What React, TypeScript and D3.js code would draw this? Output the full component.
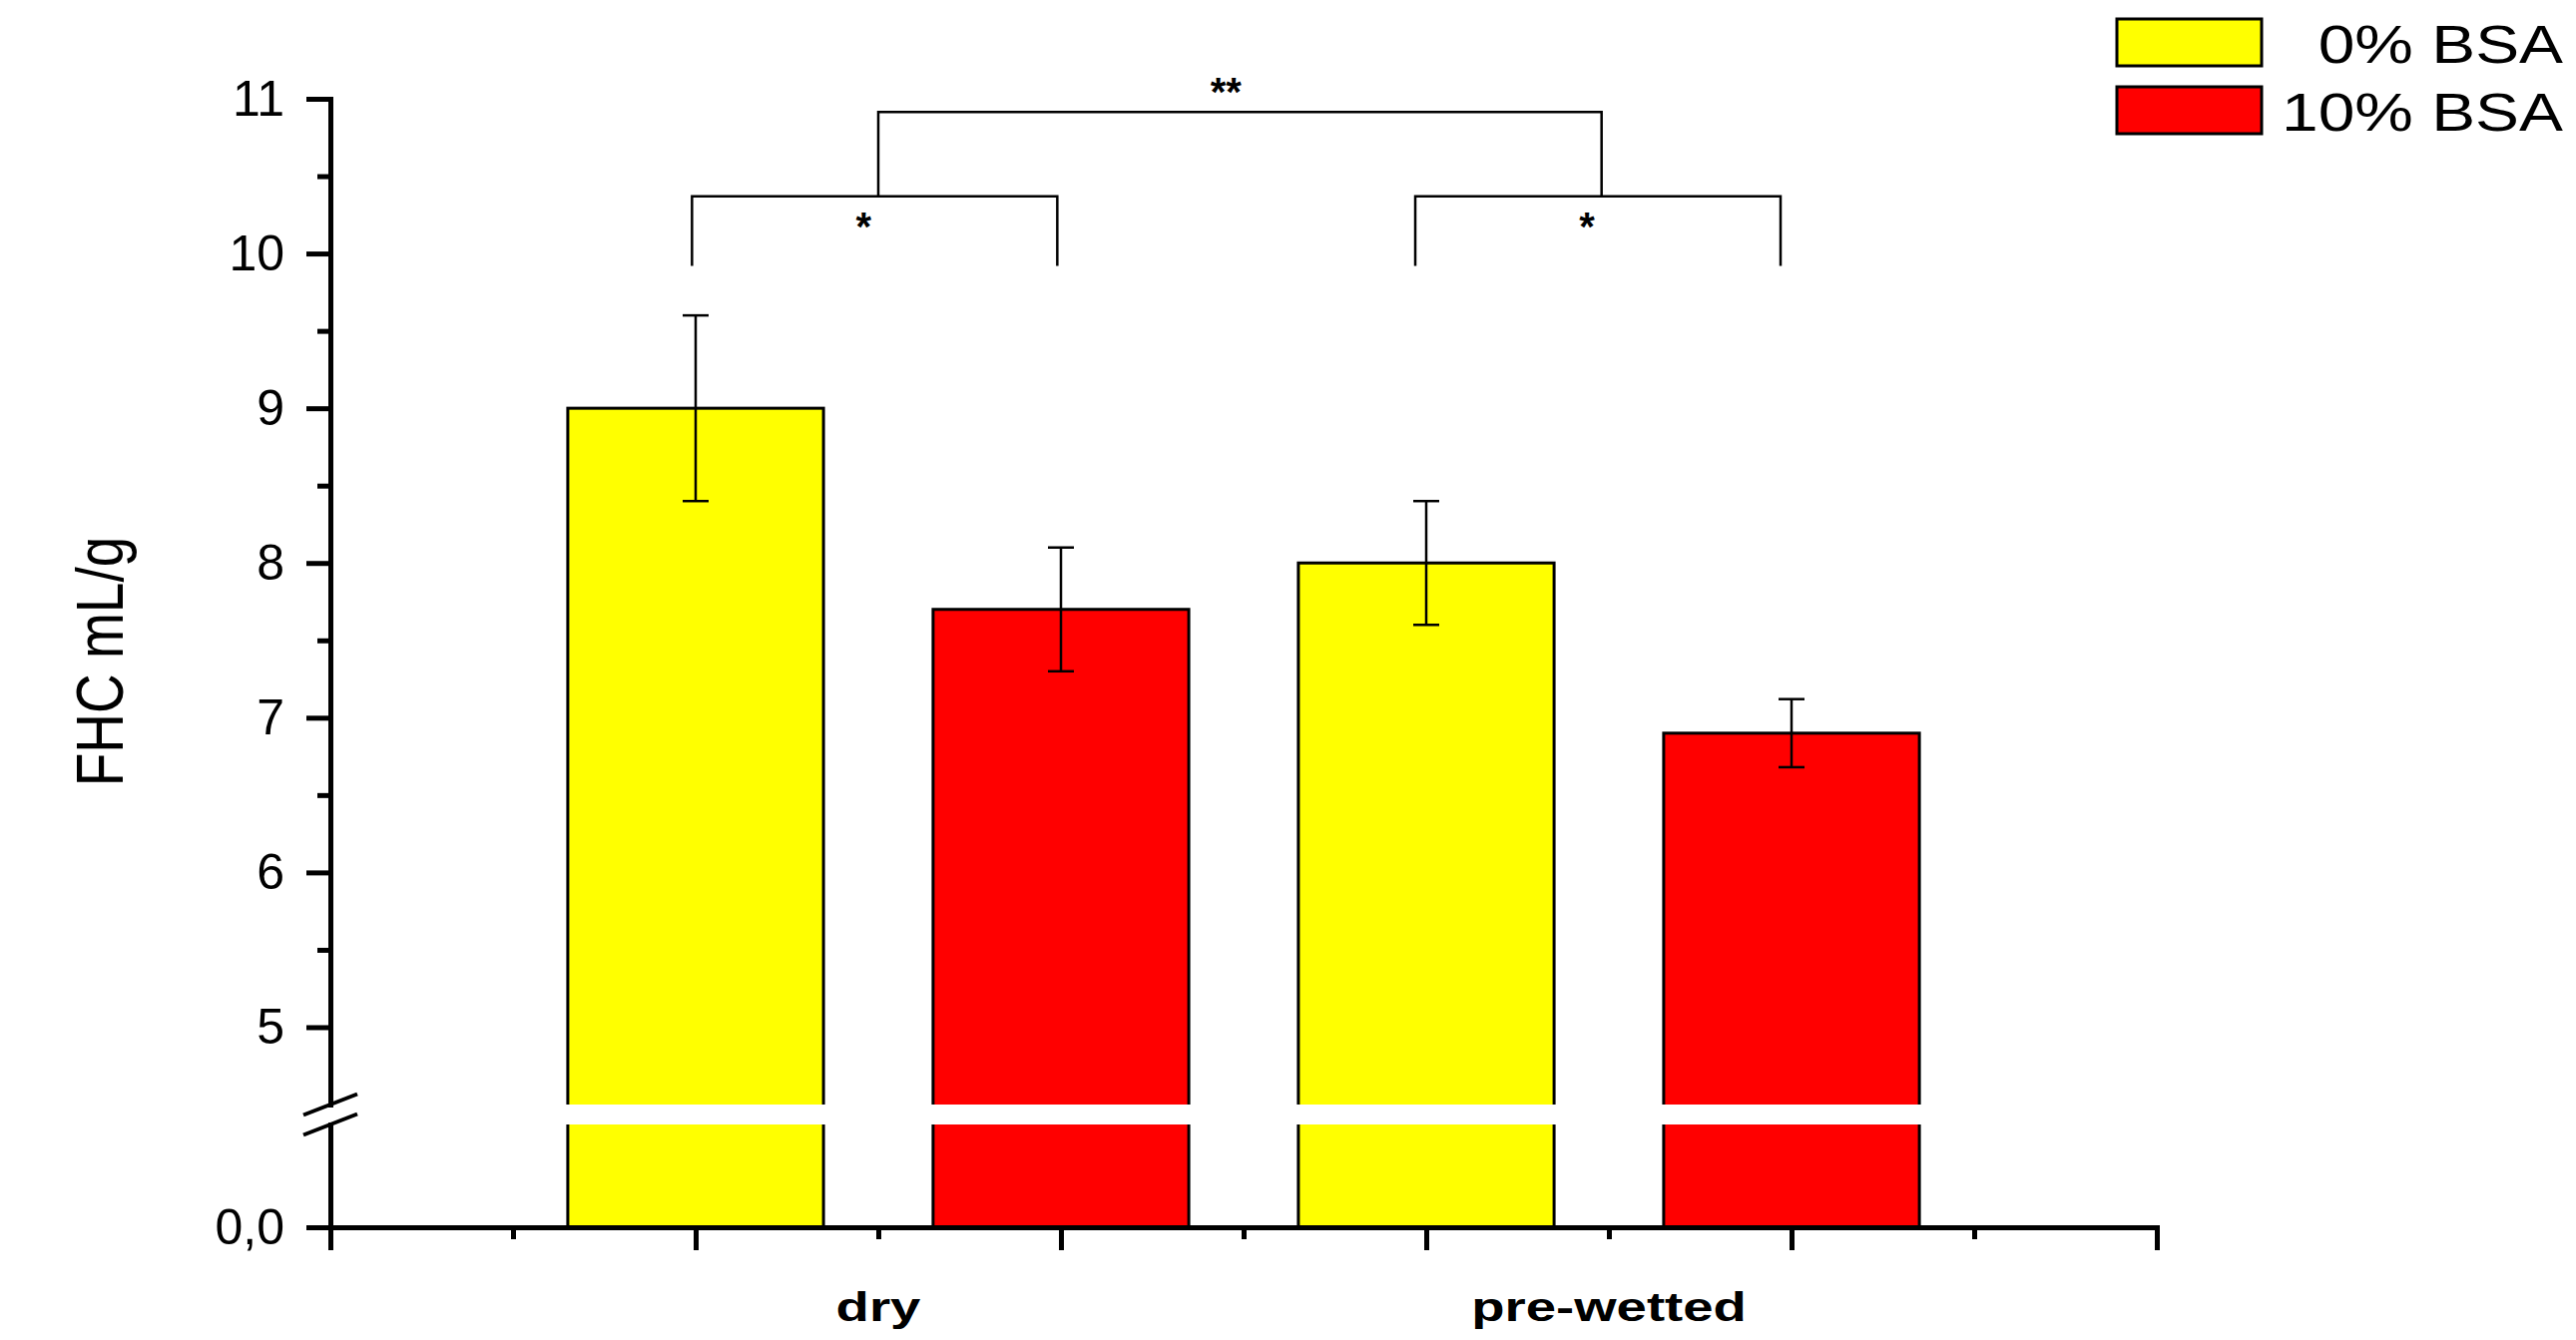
import React, { useEffect, useRef } from 'react'
import * as d3 from 'd3'

// data
const categories = ['dry', 'pre-wetted']
const seriesNames = ['0% BSA', '10% BSA']
const seriesColors = ['#ffff00', '#ff0000']
const bsa0Mean = [9.0, 8.0]
const bsa0Err = [0.6, 0.4]
const bsa10Mean = [7.7, 6.9]
const bsa10Err = [0.4, 0.22]
const yMajorTicks = [5, 6, 7, 8, 9, 10, 11]
const yMinorTicks = [5.5, 6.5, 7.5, 8.5, 9.5, 10.5]
const xMajorTicks = [0, 1, 2, 3, 4, 5]
const xMinorTicks = [0.5, 1.5, 2.5, 3.5, 4.5]
// significance brackets, ends given in bar slot units
const sigFrom = [0.99, 2.97, 1.5]
const sigTo = [1.99, 3.97, 3.48]
const sigLabels = ['*', '*', '**']

const W = 2581
const H = 1343
const FONT = "'Liberation Sans', Arial, sans-serif"

const App = () => {
    const ref = useRef<SVGSVGElement>(null)

    useEffect(() => {
        const svg = d3.select(ref.current)
        svg.selectAll('*').remove()

        const x = d3.scaleLinear().domain([0, 5]).range([331, 2161])
        const yTop = d3.scaleLinear().domain([4.5, 11]).range([1107, 99])
        const yLow = d3.scaleLinear().domain([0, 0.66]).range([1230, 1127])
        const yBase = yLow(0)

        const means = [bsa0Mean, bsa10Mean]
        const errs = [bsa0Err, bsa10Err]
        const bars: { slot: number, v: number, e: number, s: number }[] = []
        categories.forEach((c, ci) => {
            seriesNames.forEach((s, si) => {
                bars.push({ slot: 1 + ci * 2 + si, v: means[si][ci], e: errs[si][ci], s: si })
            })
        })

        // bars
        svg.selectAll('.bar')
            .data(bars)
            .enter().append('rect')
            .attr('class', 'bar')
            .attr('x', d => x(d.slot - 0.35))
            .attr('width', d => x(d.slot + 0.35) - x(d.slot - 0.35))
            .attr('y', d => yTop(d.v))
            .attr('height', d => yBase - yTop(d.v))
            .attr('fill', d => seriesColors[d.s])
            .attr('stroke', '#000')
            .attr('stroke-width', 3)

        // axis break gap
        svg.append('rect')
            .attr('x', 300).attr('width', 1900)
            .attr('y', yTop(4.5)).attr('height', yLow(0.66) - yTop(4.5))
            .attr('fill', '#fff')

        const styleAxis = (g: any, fs: number) => {
            g.attr('font-family', FONT).attr('font-size', fs)
            g.selectAll('line').attr('stroke', '#000').attr('stroke-width', 5)
            g.selectAll('.domain').attr('stroke', '#000').attr('stroke-width', 5).attr('stroke-linecap', 'square')
            g.selectAll('text').attr('fill', '#000')
        }

        // y axis, upper part
        const yAx = svg.append('g').attr('transform', `translate(${x(0)},0)`)
            .call(d3.axisLeft(yTop).tickValues(yMajorTicks).tickSize(24).tickSizeOuter(0).tickPadding(22).tickFormat(d3.format('d')))
        styleAxis(yAx, 50)
        const yMin = svg.append('g').attr('transform', `translate(${x(0)},0)`)
            .call(d3.axisLeft(yTop).tickValues(yMinorTicks).tickSize(13).tickSizeOuter(0).tickFormat(() => ''))
        styleAxis(yMin, 50)
        // y axis, lower part
        const yLowAx = svg.append('g').attr('transform', `translate(${x(0)},0)`)
            .call(d3.axisLeft(yLow).tickValues([0]).tickSize(24).tickSizeOuter(0).tickPadding(22).tickFormat(() => '0,0'))
        styleAxis(yLowAx, 50)

        // x axis
        const xAx = svg.append('g').attr('transform', `translate(0,${yBase})`)
            .call(d3.axisBottom(x).tickValues(xMajorTicks).tickSize(23).tickSizeOuter(0).tickFormat(() => ''))
        styleAxis(xAx, 46)
        const xMin = svg.append('g').attr('transform', `translate(0,${yBase})`)
            .call(d3.axisBottom(x).tickValues(xMinorTicks).tickSize(12).tickSizeOuter(0).tickFormat(() => ''))
        styleAxis(xMin, 46)

        // break marks
        const ax0 = x(0)
        ;[yTop(4.5), yLow(0.66)].forEach(yy => {
            svg.append('line')
                .attr('x1', ax0 - 27).attr('y1', yy + 10.5)
                .attr('x2', ax0 + 27).attr('y2', yy - 10.5)
                .attr('stroke', '#000').attr('stroke-width', 4)
        })

        // error bars
        const eb = svg.selectAll('.err').data(bars).enter().append('g').attr('class', 'err')
        eb.append('line')
            .attr('x1', d => x(d.slot)).attr('x2', d => x(d.slot))
            .attr('y1', d => yTop(d.v + d.e)).attr('y2', d => yTop(d.v - d.e))
        eb.append('line')
            .attr('x1', d => x(d.slot) - 13).attr('x2', d => x(d.slot) + 13)
            .attr('y1', d => yTop(d.v + d.e)).attr('y2', d => yTop(d.v + d.e))
        eb.append('line')
            .attr('x1', d => x(d.slot) - 13).attr('x2', d => x(d.slot) + 13)
            .attr('y1', d => yTop(d.v - d.e)).attr('y2', d => yTop(d.v - d.e))
        eb.selectAll('line').attr('stroke', '#000').attr('stroke-width', 2.5)

        // significance brackets
        sigLabels.forEach((lab, i) => {
            const big = lab === '**'
            const top = big ? 10.915 : 10.37
            const foot = big ? 10.37 : 9.92
            const x1 = x(sigFrom[i]), x2 = x(sigTo[i])
            svg.append('path')
                .attr('d', `M${x1},${yTop(foot)}V${yTop(top)}H${x2}V${yTop(foot)}`)
                .attr('fill', 'none').attr('stroke', '#000').attr('stroke-width', 2.5)
            svg.append('text')
                .attr('x', (x1 + x2) / 2 - (big ? 14 : 11))
                .attr('y', big ? yTop(top) - 6 : yTop(top) + 44)
                .attr('text-anchor', 'middle')
                .attr('font-family', FONT).attr('font-weight', 'bold').attr('font-size', 40)
                .text(lab)
        })

        // category labels
        categories.forEach((c, ci) => {
            svg.append('text')
                .attr('transform', `translate(${x(1.5 + ci * 2)},1324) scale(1.33,1)`)
                .attr('text-anchor', 'middle')
                .attr('font-family', FONT).attr('font-weight', 'bold').attr('font-size', 41)
                .text(c)
        })

        // y title
        svg.append('text')
            .attr('transform', 'translate(123,663) rotate(-90) scale(1,1.2)')
            .attr('text-anchor', 'middle')
            .attr('font-family', FONT).attr('font-size', 55)
            .text('FHC mL/g')

        // legend
        seriesNames.forEach((s, si) => {
            svg.append('rect')
                .attr('x', 2121).attr('y', 19 + si * 68)
                .attr('width', 145).attr('height', 47)
                .attr('fill', seriesColors[si])
                .attr('stroke', '#000').attr('stroke-width', 3)
            svg.append('text')
                .attr('transform', `translate(2568,${63 + si * 68}) scale(1.22,1)`)
                .attr('text-anchor', 'end')
                .attr('font-family', FONT).attr('font-size', 54)
                .text(s)
        })
    }, [])

    return (
        <svg ref={ref} width={W} height={H}
            style={{ position: 'absolute', left: 0, top: 0, background: '#fff' }} />
    )
}

export default App
